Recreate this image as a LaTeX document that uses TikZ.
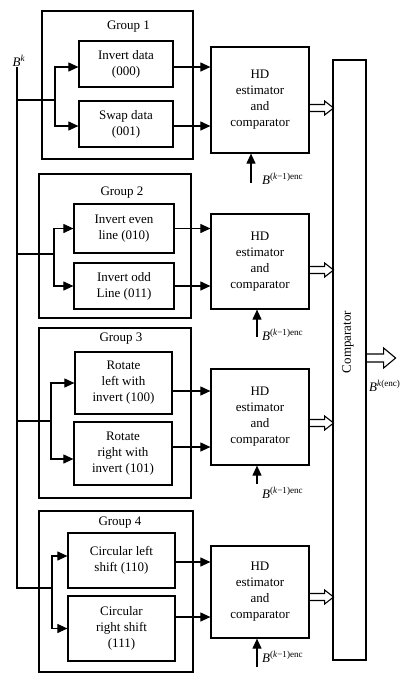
\documentclass[tikz,border=0pt]{standalone}
\usepackage{fontspec}
\setmainfont{Liberation Serif}
\usetikzlibrary{arrows.meta,calc}
\newcommand\fatarrow[1]{\draw[fat] (#1) ++(0,-3.5) -- ++(15,0) -- ++(0,-3.5) -- ++(9,7) -- ++(-9,7) -- ++(0,-3.5) -- ++(-15,0);}
\begin{document}
\begin{tikzpicture}[x=1pt,y=-1pt,
  box/.style={draw,line width=1.2pt,inner sep=0pt,align=center,font=\fontsize{13}{16}\selectfont},
  grp/.style={draw,line width=1.2pt,inner sep=0pt},
  ttl/.style={inner sep=0pt,font=\fontsize{13}{16}\selectfont},
  wire/.style={line width=1.1pt},
  arr/.style={line width=1.1pt,-{Triangle[length=10pt,width=9pt]}},
  fat/.style={line width=1.1pt,line join=miter},
  lbl/.style={inner sep=0pt,anchor=west,font=\fontsize{13}{16}\selectfont}]
\useasboundingbox (0,0) rectangle (412,681);
% groups
\node[grp,minimum width=151pt,minimum height=148pt] (g1) at (117.5,85) {};
\node[ttl] (g1t) at (128.5,27) {Group 1};
\node[grp,minimum width=152pt,minimum height=144pt] (g2) at (115,246) {};
\node[ttl] (g2t) at (122,193) {Group 2};
\node[grp,minimum width=152pt,minimum height=170pt] (g3) at (115,413) {};
\node[ttl] (g3t) at (121,339) {Group 3};
\node[grp,minimum width=154pt,minimum height=161pt] (g4) at (116,591.5) {};
\node[ttl] (g4t) at (120,523) {Group 4};
% inner boxes
\node[box,minimum width=94pt,minimum height=46pt] (a1) at (126,64) {Invert data\\(000)};
\node[box,minimum width=94pt,minimum height=46pt] (b1) at (126,124) {Swap data\\(001)};
\node[box,minimum width=100pt,minimum height=49pt] (a2) at (124,228.5) {Invert even\\line (010)};
\node[box,minimum width=100pt,minimum height=46pt] (b2) at (124,286) {Invert odd\\Line (011)};
\node[box,minimum width=97pt,minimum height=62pt] (a3) at (123.5,383) {Rotate\\left with\\invert (100)};
\node[box,minimum width=98pt,minimum height=63pt] (b3) at (123,453.5) {Rotate\\right with\\invert (101)};
\node[box,minimum width=107pt,minimum height=55pt] (a4) at (121.5,560.5) {Circular left\\shift (110)};
\node[box,minimum width=107pt,minimum height=65pt] (b4) at (121.5,628.5) {Circular\\right shift\\(111)};
% HD boxes
\node[box,minimum width=98pt,minimum height=106pt] (hd1) at (260,100) {HD\\estimator\\and\\comparator};
\node[box,minimum width=98pt,minimum height=95pt] (hd2) at (260,261.5) {HD\\estimator\\and\\comparator};
\node[box,minimum width=98pt,minimum height=96pt] (hd3) at (260,417) {HD\\estimator\\and\\comparator};
\node[box,minimum width=98pt,minimum height=92pt] (hd4) at (260,592) {HD\\estimator\\and\\comparator};
% comparator
\node[grp,minimum width=33pt,minimum height=600pt] (comp) at (349.5,360) {};
\node[ttl,rotate=90] (compt) at (348,342) {Comparator};
% input trunk
\node[ttl] (bk) at (19,61) {\textit{B}\textsuperscript{\textit{k}}};
\coordinate (trtop) at (17,67);
\coordinate (j1) at (55,100);
\coordinate (j2) at (54,254);
\coordinate (j3) at (51,421);
\coordinate (j4) at (52,588);
\draw[wire] (trtop) |- (j4);
\draw[wire] (trtop |- j1) -- (j1);
\draw[wire] (trtop |- j2) -- (j2);
\draw[wire] (trtop |- j3) -- (j3);
\draw[arr] (j1) |- ([yshift=-3pt]a1.west);
\draw[arr] (j1) |- ([yshift=-2pt]b1.west);
\draw[arr] (j2) |- (a2.west);
\draw[arr] (j2) |- (b2.west);
\draw[arr] (j3) |- (a3.west);
\draw[arr] (j3) |- ([yshift=-5.5pt]b3.west);
\draw[arr] (j4) |- ([yshift=4.5pt]a4.west);
\draw[arr] (j4) |- (b4.west);
% outputs to HD
\coordinate (oa1) at ([yshift=-3pt]a1.east);
\coordinate (ob1) at ([yshift=-2pt]b1.east);
\coordinate (oa2) at (a2.east);
\coordinate (ob2) at (b2.east);
\coordinate (oa3) at ([yshift=-8pt]a3.east);
\coordinate (ob3) at ([yshift=6.5pt]b3.east);
\coordinate (oa4) at ([yshift=-1.5pt]a4.east);
\coordinate (ob4) at ([yshift=11.5pt]b4.east);
\draw[arr] (oa1) -- (oa1 -| hd1.west);
\draw[arr] (ob1) -- (ob1 -| hd1.west);
\draw[arr] (oa2) -- (oa2 -| hd2.west);
\draw[arr] (ob2) -- (ob2 -| hd2.west);
\draw[arr] (oa3) -- (oa3 -| hd3.west);
\draw[arr] (ob3) -- (ob3 -| hd3.west);
\draw[arr] (oa4) -- (oa4 -| hd4.west);
\draw[arr] (ob4) -- (ob4 -| hd4.west);
% bottom inputs
\coordinate (e1) at (251,183);
\coordinate (e2) at (257,337);
\coordinate (e3) at (257,484);
\coordinate (e4) at (257,667);
\draw[arr] (e1) -- (e1 |- hd1.south);
\draw[arr] (e2) -- (e2 |- hd2.south);
\draw[arr] (e3) -- (e3 |- hd3.south);
\draw[arr] (e4) -- (e4 |- hd4.south);
\node[lbl] (l1) at (262,179) {\textit{B}\textsuperscript{(\textit{k}−1)enc}};
\node[lbl] (l2) at (262,335) {\textit{B}\textsuperscript{(\textit{k}−1)enc}};
\node[lbl] (l3) at (262,493) {\textit{B}\textsuperscript{(\textit{k}−1)enc}};
\node[lbl] (l4) at (262,657) {\textit{B}\textsuperscript{(\textit{k}−1)enc}};
% hollow arrows to comparator
\coordinate (d1) at ([yshift=-8pt]hd1.east);
\coordinate (d2) at ([yshift=-8.5pt]hd2.east);
\coordinate (d3) at ([yshift=-6pt]hd3.east);
\coordinate (d4) at ([yshift=-5pt]hd4.east);
\fatarrow{d1}
\fatarrow{d2}
\fatarrow{d3}
\fatarrow{d4}
% output
\coordinate (oc) at ([yshift=2pt]comp.east);
\draw[fat] (oc) ++(0,-4) -- ++(17,0) -- ++(0,-6) -- ++(12,10) -- ++(-12,10) -- ++(0,-6) -- ++(-17,0);
\node[lbl] (bout) at (369,386) {\textit{B}\textsuperscript{\textit{k}(enc)}};
\end{tikzpicture}
\end{document}
